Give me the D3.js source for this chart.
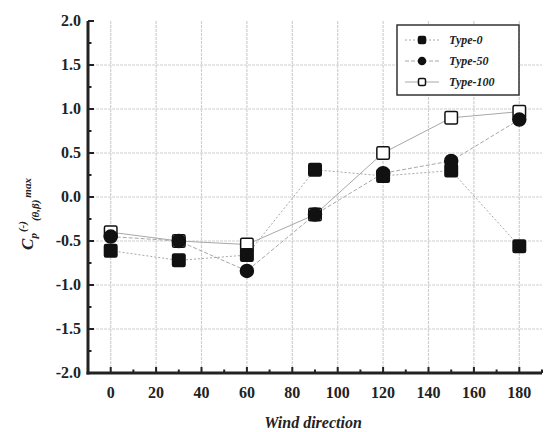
<!DOCTYPE html>
<html>
<head>
<meta charset="utf-8">
<script src="https://cdn.jsdelivr.net/npm/d3@7"></script>
<style>
  body { margin: 0; background: #fff; }
  svg text { font-family: "Liberation Serif", "DejaVu Serif", serif; }
</style>
</head>
<body>
<div id="chart"></div>
<script>
const width = 547;
const height = 432;

// data
const angles = [0, 30, 60, 90, 120, 150, 180];
const type0 = [-0.61, -0.72, -0.66, 0.31, 0.24, 0.30, -0.56];
const type50 = [-0.45, -0.50, -0.84, -0.20, 0.27, 0.41, 0.88];
const type100 = [-0.40, -0.50, -0.54, -0.20, 0.50, 0.90, 0.97];
const seriesNames = ["Type-0", "Type-50", "Type-100"];
const xTicks = [0, 20, 40, 60, 80, 100, 120, 140, 160, 180];
const yTicks = [-2.0, -1.5, -1.0, -0.5, 0.0, 0.5, 1.0, 1.5, 2.0];

const margin = { left: 88, right: 5, top: 21, bottom: 59 };

const x = d3.scaleLinear().domain([-10, 190]).range([margin.left, width - margin.right]);
const y = d3.scaleLinear().domain([-2, 2]).range([height - margin.bottom, margin.top]);

const svg = d3.select("#chart").append("svg")
  .attr("width", width)
  .attr("height", height);

// grid
svg.append("g")
  .selectAll("line")
  .data(xTicks)
  .join("line")
  .attr("x1", d => x(d)).attr("x2", d => x(d))
  .attr("y1", y(2)).attr("y2", y(-2))
  .attr("stroke", "#cfcfcf")
  .attr("stroke-width", 1.2)
  .attr("stroke-dasharray", "3,1");

svg.append("g")
  .selectAll("line")
  .data(yTicks.filter(d => d > -2 && d < 2))
  .join("line")
  .attr("x1", x(-10)).attr("x2", x(190))
  .attr("y1", d => y(d)).attr("y2", d => y(d))
  .attr("stroke", "#cfcfcf")
  .attr("stroke-width", 1.2)
  .attr("stroke-dasharray", "3,1");

// series
const series = [
  { name: seriesNames[0], values: type0, shape: "square", fill: "#111", dash: "2,2" },
  { name: seriesNames[1], values: type50, shape: "circle", fill: "#111", dash: "4,2" },
  { name: seriesNames[2], values: type100, shape: "square", fill: "#fff", dash: null }
];

const line = d3.line()
  .x((d, i) => x(angles[i]))
  .y(d => y(d));

series.forEach(s => {
  svg.append("path")
    .datum(s.values)
    .attr("d", line)
    .attr("fill", "none")
    .attr("stroke", "#a8a8a8")
    .attr("stroke-width", 1)
    .attr("stroke-dasharray", s.dash);
});

function drawMarker(g, shape, fill, size) {
  if (shape === "circle") {
    g.append("circle").attr("r", size / 2).attr("fill", fill)
      .attr("stroke", "#111").attr("stroke-width", 1.5);
  } else {
    g.append("rect")
      .attr("x", -size / 2).attr("y", -size / 2)
      .attr("width", size).attr("height", size)
      .attr("rx", 1.5)
      .attr("fill", fill).attr("stroke", "#111").attr("stroke-width", 1.5);
  }
}

// draw open squares first, then circles, then filled squares on top
[series[2], series[1], series[0]].forEach(s => {
  s.values.forEach((v, i) => {
    const g = svg.append("g").attr("transform", `translate(${x(angles[i])},${y(v)})`);
    drawMarker(g, s.shape, s.fill, s.shape === "circle" ? 13 : 12.5);
  });
});

// axes
const axisG = svg.append("g");
axisG.append("line")
  .attr("x1", x(-10)).attr("x2", x(-10))
  .attr("y1", y(2)).attr("y2", y(-2) + 1.5)
  .attr("stroke", "#222").attr("stroke-width", 3);
axisG.append("line")
  .attr("x1", x(-10) - 1.5).attr("x2", x(190))
  .attr("y1", y(-2)).attr("y2", y(-2))
  .attr("stroke", "#222").attr("stroke-width", 3);

// y ticks (inside)
const yMinor = d3.range(-1.75, 2, 0.5);
axisG.selectAll(".ymaj").data(yTicks).join("line")
  .attr("x1", x(-10)).attr("x2", x(-10) + 6)
  .attr("y1", d => y(d)).attr("y2", d => y(d))
  .attr("stroke", "#222").attr("stroke-width", 2);
axisG.selectAll(".ymin").data(yMinor).join("line")
  .attr("x1", x(-10)).attr("x2", x(-10) + 3.5)
  .attr("y1", d => y(d)).attr("y2", d => y(d))
  .attr("stroke", "#222").attr("stroke-width", 2);

// x ticks (inside)
const xMinor = d3.range(-10, 191, 20);
axisG.selectAll(".xmaj").data(xTicks).join("line")
  .attr("x1", d => x(d)).attr("x2", d => x(d))
  .attr("y1", y(-2)).attr("y2", y(-2) - 6)
  .attr("stroke", "#222").attr("stroke-width", 2);
axisG.selectAll(".xmin").data(xMinor.filter(d => d > -10)).join("line")
  .attr("x1", d => x(d)).attr("x2", d => x(d))
  .attr("y1", y(-2)).attr("y2", y(-2) - 3.5)
  .attr("stroke", "#222").attr("stroke-width", 2);

// tick labels
const fmt = d => d3.format(".1f")(d).replace("\u2212", "-");
svg.append("g").selectAll("text").data(yTicks).join("text")
  .attr("x", x(-10) - 7)
  .attr("y", d => y(d) + 5)
  .attr("text-anchor", "end")
  .attr("font-size", 16)
  .attr("font-weight", "bold")
  .attr("fill", "#222")
  .text(fmt);

svg.append("g").selectAll("text").data(xTicks).join("text")
  .attr("x", d => x(d))
  .attr("y", y(-2) + 25)
  .attr("text-anchor", "middle")
  .attr("font-size", 16)
  .attr("font-weight", "bold")
  .attr("fill", "#222")
  .text(d => d);

// axis titles
svg.append("text")
  .attr("x", 313)
  .attr("y", 428)
  .attr("text-anchor", "middle")
  .attr("font-size", 16)
  .attr("font-weight", "bold")
  .attr("font-style", "italic")
  .attr("fill", "#222")
  .text("Wind direction");

const yTitle = svg.append("text")
  .attr("transform", "translate(33,214) rotate(-90)")
  .attr("text-anchor", "middle")
  .attr("font-weight", "bold")
  .attr("font-style", "italic")
  .attr("fill", "#222")
  .attr("font-size", 17);
yTitle.append("tspan").text("C");
yTitle.append("tspan").attr("font-size", 11).attr("dy", 4).text("p");
yTitle.append("tspan").attr("font-size", 11).attr("dy", -11).attr("dx", 1).text("(-)");
yTitle.append("tspan").attr("font-size", 11).attr("dy", 13).text("(θ,β)");
yTitle.append("tspan").attr("font-size", 11).attr("dy", -8).attr("dx", 2).text("max");

// legend
const legend = svg.append("g").attr("transform", "translate(397,25)");
legend.append("rect")
  .attr("width", 122).attr("height", 70)
  .attr("fill", "#fff").attr("stroke", "#333").attr("stroke-width", 1.5);
series.forEach((s, i) => {
  const row = legend.append("g").attr("transform", `translate(0,${15 + i * 21})`);
  row.append("line")
    .attr("x1", 8).attr("x2", 42)
    .attr("stroke", "#a8a8a8").attr("stroke-width", 1)
    .attr("stroke-dasharray", s.dash);
  const m = row.append("g").attr("transform", "translate(25,0)");
  drawMarker(m, s.shape, s.fill, 7);
  row.append("text")
    .attr("x", 52).attr("y", 4)
    .attr("font-size", 12)
    .attr("font-weight", "bold")
    .attr("font-style", "italic")
    .attr("fill", "#222")
    .text(s.name);
});
</script>
</body>
</html>
